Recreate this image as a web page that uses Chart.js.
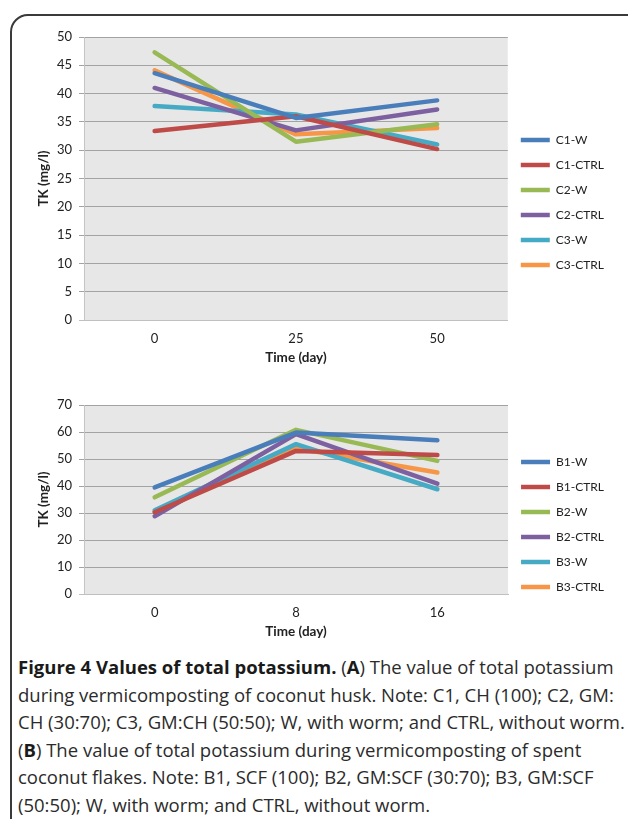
<!DOCTYPE html>
<html>
<head>
<meta charset="utf-8">
<script src="https://cdn.jsdelivr.net/npm/chart.js@4.4.0/dist/chart.umd.min.js"></script>
<style>
  body { margin: 0; background: #fff; width: 628px; height: 819px; overflow: hidden; position: relative; }
  #frame { position: absolute; left: 10px; top: 14px; width: 640px; height: 830px; border: 2px solid #3a3a3a; border-top-left-radius: 18px; box-sizing: border-box; }
  #boxA { position: absolute; left: 10px; top: 20px; width: 604px; height: 352px; }
  #boxB { position: absolute; left: 10px; top: 388px; width: 604px; height: 258px; }
  #caption { position: absolute; left: 18px; top: 653px; font-family: "Open Sans", sans-serif; font-size: 18.5px; line-height: 27.6px; color: #2b2b2b; white-space: nowrap; }
  #caption b { color: #1a1a1a; }
</style>
</head>
<body>
<div id="frame"></div>
<div id="boxA"><canvas id="chartA"></canvas></div>
<div id="boxB"><canvas id="chartB"></canvas></div>
<div id="caption">
<b>Figure 4 Values of total potassium.</b> (<b>A</b>) The value of total potassium<br>
during vermicomposting of coconut husk. Note: C1, CH (100); C2, GM:<br>
CH (30:70); C3, GM:CH (50:50); W, with worm; and CTRL, without worm.<br>
(<b>B</b>) The value of total potassium during vermicomposting of spent<br>
coconut flakes. Note: B1, SCF (100); B2, GM:SCF (30:70); B3, GM:SCF<br>
(50:50); W, with worm; and CTRL, without worm.
</div>
<script>
// chart A - coconut husk
const diasA = ['0', '25', '50'];
const seriesA = ['C1-W', 'C1-CTRL', 'C2-W', 'C2-CTRL', 'C3-W', 'C3-CTRL'];
const c1w = [43.6, 35.7, 38.8];
const c1ctrl = [33.4, 36.0, 30.2];
const c2w = [47.3, 31.5, 34.6];
const c2ctrl = [41.0, 33.5, 37.2];
const c3w = [37.8, 36.3, 31.0];
const c3ctrl = [44.1, 32.8, 33.9];

// chart B - spent coconut flakes
const diasB = ['0', '8', '16'];
const seriesB = ['B1-W', 'B1-CTRL', 'B2-W', 'B2-CTRL', 'B3-W', 'B3-CTRL'];
const b1w = [39.5, 59.8, 56.9];
const b1ctrl = [30.3, 53.0, 51.5];
const b2w = [35.8, 60.8, 49.3];
const b2ctrl = [28.8, 59.2, 40.9];
const b3w = [31.0, 55.5, 38.8];
const b3ctrl = [30.4, 54.0, 45.0];

const cores = ['#4a7ebb', '#be4b48', '#98b954', '#7d60a0', '#46aac5', '#f79646'];

const fundoPlot = {
    id: 'fundoPlot',
    beforeDraw(chart) {
        const { ctx, chartArea } = chart;
        ctx.save();
        ctx.fillStyle = '#e7e7e7';
        ctx.fillRect(chartArea.left, chartArea.top, chartArea.right - chartArea.left, chartArea.bottom - chartArea.top);
        ctx.restore();
    }
};

function montarDatasets(nomes, valores) {
    return nomes.map((nome, i) => ({
        label: nome,
        data: valores[i],
        borderColor: cores[i],
        backgroundColor: cores[i],
        borderWidth: 4.5,
        borderCapStyle: 'round',
        borderJoinStyle: 'round',
        pointRadius: 0,
        tension: 0
    }));
}

function criarConfig(dias, nomes, valores, yMax, yStep, tituloPad) {
    return {
        type: 'line',
        data: { labels: dias, datasets: montarDatasets(nomes, valores) },
        plugins: [fundoPlot],
        options: {
            responsive: true,
            maintainAspectRatio: false,
            animation: false,
            layout: { padding: { top: 17, right: 0, left: 0, bottom: 0 } },
            scales: {
                x: {
                    offset: true,
                    afterFit: s => { s.height = 52; },
                    grid: { display: false, drawTicks: false },
                    border: { color: '#c0c0c0', width: 1, z: 1 },
                    ticks: { color: '#222', font: { family: 'Lato', size: 13 }, padding: 11 },
                    title: { display: true, text: 'Time (day)', color: '#222', font: { family: 'Lato', size: 13.5, weight: 'bold' }, padding: { top: 0, bottom: 6 } }
                },
                y: {
                    min: 0,
                    max: yMax,
                    afterFit: s => { s.width = 74; },
                    ticks: { stepSize: yStep, color: '#222', font: { family: 'Lato', size: 13 }, padding: 7 },
                    grid: { color: ctx => ctx.tick && ctx.tick.value === 0 ? '#c0c0c0' : '#a3a3a3', lineWidth: 1, tickLength: 5 },
                    border: { color: '#c4c4c4' },
                    title: { display: true, text: 'TK (mg/l)', color: '#222', font: { family: 'Lato', size: 13.5, weight: 'bold' }, padding: { top: 26, bottom: 0 } }
                }
            },
            plugins: {
                legend: {
                    position: 'right',
                    align: 'start',
                    title: { display: true, text: '', padding: { top: tituloPad, bottom: 0 } },
                    labels: {
                        usePointStyle: true,
                        pointStyle: 'line',
                        pointStyleWidth: 29,
                        padding: 13,
                        color: '#222',
                        font: { family: 'Lato', size: 12 }
                    }
                },
                tooltip: { enabled: false }
            }
        }
    };
}

new Chart(document.getElementById('chartA'),
    criarConfig(diasA, seriesA, [c1w, c1ctrl, c2w, c2ctrl, c3w, c3ctrl], 50, 5, 69.6));

new Chart(document.getElementById('chartB'),
    criarConfig(diasB, seriesB, [b1w, b1ctrl, b2w, b2ctrl, b3w, b3ctrl], 70, 10, 23.6));
</script>
</body>
</html>
